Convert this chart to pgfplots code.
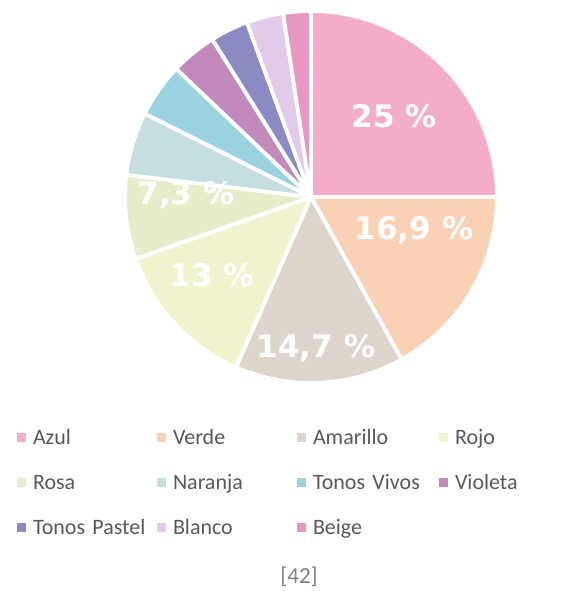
\documentclass[border=0pt]{standalone}
\usepackage{pgfplots}
\pgfplotsset{compat=1.18}
\usepackage{fontspec}
\setmainfont{Carlito}
\newfontfamily\labelfont{DejaVu Sans}
\definecolor{cAzul}{HTML}{F3ADCB}
\definecolor{cVerde}{HTML}{F9D1B5}
\definecolor{cAmarillo}{HTML}{DDD5CC}
\definecolor{cRojo}{HTML}{F1F3CF}
\definecolor{cRosa}{HTML}{E5EDCA}
\definecolor{cNaranja}{HTML}{C5DFE0}
\definecolor{cVivos}{HTML}{9AD3DF}
\definecolor{cVioleta}{HTML}{C289BB}
\definecolor{cPastel}{HTML}{8B8BC3}
\definecolor{cBlanco}{HTML}{E2CAEA}
\definecolor{cBeige}{HTML}{E897C1}
\definecolor{legtext}{HTML}{595959}
\definecolor{captext}{HTML}{7F7F7F}
\newcommand\cum{0}
\newcommand{\pieslice}[3]{%
  \pgfmathsetmacro\angA{90-3.6*\cum}%
  \pgfmathsetmacro\angB{90-3.6*(\cum+#1)}%
  \edef\doslice{\noexpand\addplot[fill=#2, draw=white, line width=3.8pt, line join=round, domain=\angB:\angA, samples=60, variable=\noexpand\t] ({311+186*cos(\noexpand\t)},{394+186*sin(\noexpand\t)}) -- (axis cs:311,394) -- cycle;}%
  \doslice
  \addlegendentry{#3}
  \pgfmathsetmacro\newcum{\cum+#1}\xdef\cum{\newcum}%
}
\begin{document}
\begin{tikzpicture}
\begin{axis}[
  width=565pt, height=591pt, scale only axis,
  xmin=0, xmax=565, ymin=0, ymax=591,
  hide axis, clip=false,
  legend image code/.code={\fill[#1, draw=none] (0pt,-2.5pt) rectangle (9pt,6.5pt); \path[draw=none, fill=none] (0pt,0pt) -- (16pt,0pt);},
  legend cell align=left,
  legend columns=4,
  legend style={at={(axis cs:17,162)}, anchor=north west, draw=none, fill=none,
    inner sep=0pt, outer sep=0pt, row sep=24pt, column sep=0pt,
    font=\fontsize{22}{26}\selectfont, text=legtext,
    /tikz/column 2/.style={text width=124pt},
    /tikz/column 4/.style={text width=124pt},
    /tikz/column 6/.style={text width=126pt},
    nodes={inner xsep=0pt, inner ysep=0pt, text height=16pt, text depth=5pt, align=left}},
]
\path (axis cs:0,0) rectangle (axis cs:565,591);
\pieslice{25}{cAzul}{Azul}
\pieslice{16.9}{cVerde}{Verde}
\pieslice{14.7}{cAmarillo}{Amarillo}
\pieslice{13}{cRojo}{Rojo}
\pieslice{7.3}{cRosa}{Rosa}
\pieslice{5.5}{cNaranja}{Naranja}
\pieslice{4.7}{cVivos}{Tonos Vivos}
\pieslice{4.0}{cVioleta}{Violeta}
\pieslice{3.3}{cPastel}{Tonos Pastel}
\pieslice{3.2}{cBlanco}{Blanco}
\pieslice{2.4}{cBeige}{Beige}
\begin{scope}[every node/.style={anchor=base, text=white, font=\labelfont\bfseries\fontsize{31}{36}\selectfont, inner sep=0pt}]
\node at (axis cs:394,463) {25 \%};
\node at (axis cs:414,351) {16,9 \%};
\node at (axis cs:316,233) {14,7 \%};
\node at (axis cs:212,304) {13 \%};
\node at (axis cs:186,386) {7,3 \%};
\end{scope}
\node[anchor=base, text=captext, font=\fontsize{23}{27}\selectfont, inner sep=0pt] at (axis cs:299,8) {[42]};
\end{axis}
\end{tikzpicture}
\end{document}
